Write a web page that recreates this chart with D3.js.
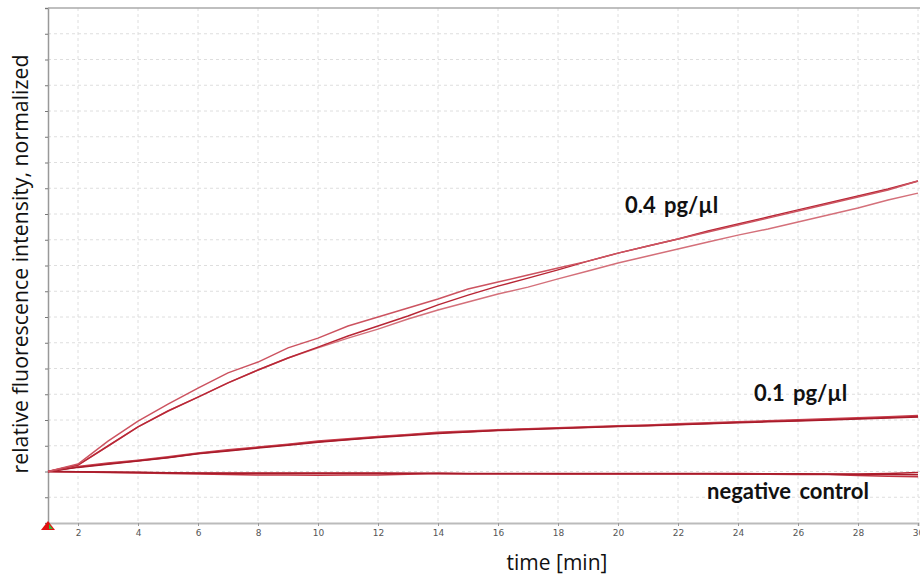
<!DOCTYPE html>
<html>
<head>
<meta charset="utf-8">
<style>
    body { margin: 0; background: #fff; }
    svg { display: block; }
</style>
</head>
<body>
<svg id="chart" width="920" height="575"></svg>
<script src="https://d3js.org/d3.v7.min.js"></script>
<script>
    // time in minutes
    let minutes = d3.range(1, 31);
    // fluorescence (normalized, arbitrary units, 0 = start)
    let high1 = [0, 0.29, 1.18, 1.96, 2.62, 3.24, 3.83, 4.25, 4.80, 5.18, 5.65, 6.00, 6.35, 6.70, 7.09, 7.36, 7.63, 7.90, 8.17, 8.48, 8.76, 9.03, 9.30, 9.57, 9.84, 10.12, 10.39, 10.66, 10.93, 11.28];
    let high2 = [0, 0.25, 0.99, 1.73, 2.35, 2.89, 3.44, 3.94, 4.41, 4.83, 5.26, 5.65, 6.04, 6.47, 6.85, 7.20, 7.51, 7.83, 8.17, 8.48, 8.76, 9.03, 9.34, 9.61, 9.88, 10.16, 10.43, 10.70, 10.97, 11.28];
    let high3 = [0, 0.25, 0.99, 1.73, 2.35, 2.89, 3.44, 3.94, 4.41, 4.80, 5.18, 5.53, 5.92, 6.27, 6.58, 6.89, 7.16, 7.48, 7.79, 8.10, 8.37, 8.64, 8.91, 9.18, 9.42, 9.69, 9.96, 10.23, 10.54, 10.81];
    let low1 = [0, 0.17, 0.30, 0.42, 0.54, 0.70, 0.82, 0.93, 1.04, 1.16, 1.24, 1.34, 1.42, 1.50, 1.54, 1.60, 1.65, 1.68, 1.72, 1.76, 1.79, 1.83, 1.86, 1.91, 1.95, 1.98, 2.02, 2.06, 2.10, 2.14];
    let low2 = [0, 0.19, 0.33, 0.44, 0.57, 0.72, 0.84, 0.95, 1.06, 1.18, 1.27, 1.36, 1.44, 1.52, 1.57, 1.62, 1.66, 1.70, 1.74, 1.78, 1.81, 1.85, 1.89, 1.93, 1.97, 2.01, 2.05, 2.09, 2.13, 2.17];
    let low3 = [0, 0.16, 0.28, 0.41, 0.53, 0.69, 0.80, 0.91, 1.02, 1.14, 1.23, 1.32, 1.40, 1.48, 1.53, 1.59, 1.63, 1.67, 1.71, 1.75, 1.78, 1.82, 1.85, 1.89, 1.93, 1.96, 2.00, 2.04, 2.08, 2.12];
    let neg1 = [0, -0.01, -0.02, -0.03, -0.05, -0.06, -0.06, -0.06, -0.06, -0.06, -0.06, -0.06, -0.07, -0.07, -0.08, -0.08, -0.08, -0.08, -0.08, -0.08, -0.08, -0.08, -0.08, -0.08, -0.09, -0.09, -0.10, -0.10, -0.08, -0.04];
    let neg2 = [0, -0.02, -0.04, -0.06, -0.08, -0.10, -0.12, -0.14, -0.14, -0.15, -0.14, -0.14, -0.11, -0.08, -0.09, -0.09, -0.09, -0.10, -0.10, -0.10, -0.10, -0.10, -0.10, -0.11, -0.11, -0.12, -0.12, -0.16, -0.18, -0.20];
    let neg3 = [0, -0.01, -0.03, -0.04, -0.06, -0.07, -0.08, -0.08, -0.08, -0.08, -0.08, -0.08, -0.08, -0.08, -0.09, -0.09, -0.09, -0.09, -0.09, -0.09, -0.09, -0.09, -0.09, -0.10, -0.10, -0.10, -0.11, -0.12, -0.12, -0.13];

    let series = [
        { values: neg1, color: "#b3202e" },
        { values: neg2, color: "#c23442" },
        { values: neg3, color: "#a81b2a" },
        { values: low1, color: "#b3202e" },
        { values: low2, color: "#c63a48" },
        { values: low3, color: "#a81b2a" },
        { values: high3, color: "#d4707a" },
        { values: high2, color: "#b82635" },
        { values: high1, color: "#cc5360" }
    ];
    let xTicks = d3.range(2, 31, 2);
    let labels = [
        { text: "0.4 pg/\u00b5l", t: 20.23, v: 10.05 },
        { text: "0.1 pg/\u00b5l", t: 24.53, v: 2.72 },
        { text: "negative control", t: 22.97, v: -1.05 }
    ];

    let svg = d3.select("#chart");
    let plotLeft = 48, plotRight = 918, plotTop = 8, plotBottom = 523;

    let x = d3.scaleLinear().domain([1, 30]).range([plotLeft, plotRight]);
    let y = d3.scaleLinear().domain([-2, 18]).range([plotBottom, plotTop]);

    // grid
    svg.append("g").selectAll("line").data(d3.range(-1, 18))
        .enter().append("line")
        .attr("x1", plotLeft).attr("x2", 920)
        .attr("y1", (d) => y(d)).attr("y2", (d) => y(d))
        .attr("stroke", "#dedede").attr("stroke-dasharray", "3,3");
    svg.append("g").selectAll("line").data(xTicks)
        .enter().append("line")
        .attr("x1", (d) => x(d)).attr("x2", (d) => x(d))
        .attr("y1", plotTop).attr("y2", plotBottom)
        .attr("stroke", "#dedede").attr("stroke-dasharray", "3,3");

    // axes
    let xAxis = d3.axisBottom(x).tickValues(xTicks).tickSize(3).tickPadding(4);
    svg.append("g")
        .attr("transform", "translate(0," + plotBottom + ")")
        .call(xAxis)
        .call((g) => g.select(".domain").attr("stroke", "#bbb").attr("stroke-width", 2))
        .call((g) => g.selectAll(".tick line").attr("stroke", "#999"))
        .call((g) => g.selectAll(".tick text")
            .attr("fill", "#555").style("font-size", "9px").style("font-family", "DejaVu Sans"));

    let yAxis = d3.axisLeft(y).ticks(20).tickSize(3).tickFormat("");
    svg.append("g")
        .attr("transform", "translate(" + plotLeft + ",0)")
        .call(yAxis)
        .call((g) => g.select(".domain").attr("stroke", "#999").attr("stroke-width", 1.5))
        .call((g) => g.selectAll(".tick line").attr("stroke", "#777"));

    svg.append("line")
        .attr("x1", plotLeft).attr("x2", 920).attr("y1", plotTop).attr("y2", plotTop)
        .attr("stroke", "#aaa").attr("stroke-width", 1.5);

    // curves
    let line = d3.line()
        .x((d, i) => x(minutes[i]))
        .y((d) => y(d));
    svg.append("g").selectAll("path").data(series)
        .enter().append("path")
        .attr("d", (s) => line(s.values))
        .attr("fill", "none")
        .attr("stroke", (s) => s.color)
        .attr("stroke-width", 1.5);

    // origin marker
    svg.append("path")
        .attr("d", "M" + plotLeft + "," + (plotBottom - 2) + " L" + (plotLeft + 7) + "," + (plotBottom + 7) + " L" + (plotLeft - 7) + "," + (plotBottom + 7) + "Z")
        .attr("fill", "#e01010");
    svg.append("path")
        .attr("d", "M" + (plotLeft + 1) + "," + (plotBottom + 1) + " L" + (plotLeft + 5) + "," + (plotBottom + 6) + " L" + (plotLeft + 1) + "," + (plotBottom + 6) + "Z")
        .attr("fill", "#3ab53a");

    // annotations
    svg.append("g").selectAll("text").data(labels)
        .enter().append("text")
        .attr("x", (d) => x(d.t))
        .attr("y", (d) => y(d.v))
        .text((d) => d.text)
        .attr("font-family", "Lato, 'Open Sans', sans-serif")
        .attr("font-weight", "bold")
        .attr("font-size", "22px")
        .attr("word-spacing", "3px")
        .attr("fill", "#111");

    // axis titles
    svg.append("text")
        .attr("x", 557)
        .attr("y", 570)
        .attr("text-anchor", "middle")
        .attr("font-family", "'Open Sans', sans-serif")
        .attr("font-size", "21px")
        .attr("fill", "#111")
        .text("time [min]");
    svg.append("text")
        .attr("transform", "translate(28," + 264 + ") rotate(-90)")
        .attr("text-anchor", "middle")
        .attr("font-family", "'Open Sans', sans-serif")
        .attr("font-size", "21.3px")
        .attr("fill", "#111")
        .text("relative fluorescence intensity, normalized");
</script>
</body>
</html>
